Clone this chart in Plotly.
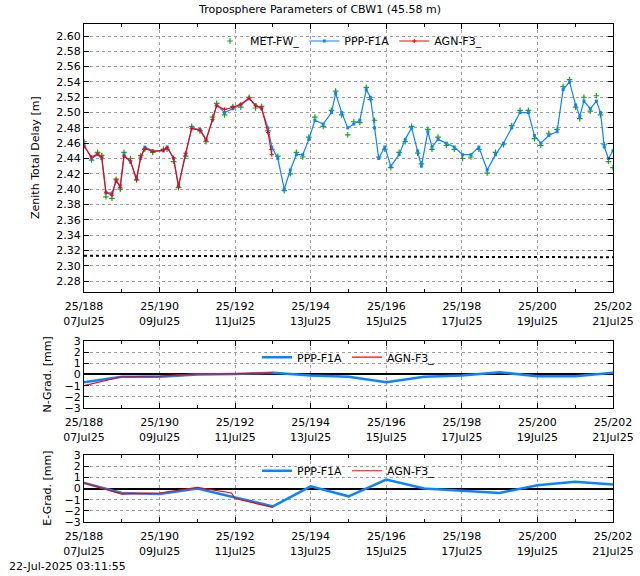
import plotly.graph_objects as go

# day of year (2025), zenith total delay [m]
ppp_doy = [188.0, 188.2, 188.36, 188.47, 188.58, 188.74, 188.85, 188.96, 189.06, 189.23, 189.39, 189.5,
           189.61, 189.82, 190.1, 190.2, 190.37, 190.5, 190.69, 190.85, 191.07, 191.23, 191.4, 191.51,
           191.72, 191.94, 192.15, 192.37, 192.54, 192.7, 192.87, 192.97, 193.13, 193.3, 193.46, 193.62,
           193.79, 193.95, 194.11, 194.33, 194.55, 194.66, 194.82, 194.98, 195.14, 195.3, 195.47, 195.58,
           195.69, 195.8, 195.96, 196.12, 196.34, 196.5, 196.67, 196.83, 196.93, 197.1, 197.21, 197.37,
           197.59, 197.8, 198.02, 198.24, 198.45, 198.67, 198.89, 199.1, 199.32, 199.54, 199.76, 199.92,
           200.09, 200.3, 200.52, 200.68, 200.85, 201.01, 201.12, 201.23, 201.4, 201.56, 201.67, 201.77,
           201.88, 202.0]
ppp_ztd = [2.458, 2.440, 2.445, 2.440, 2.395, 2.395, 2.410, 2.405, 2.445, 2.435, 2.415, 2.440,
           2.455, 2.450, 2.450, 2.455, 2.440, 2.405, 2.445, 2.480, 2.478, 2.465, 2.490, 2.510,
           2.500, 2.505, 2.510, 2.518, 2.510, 2.505, 2.480, 2.455, 2.440, 2.400, 2.425, 2.445,
           2.445, 2.465, 2.490, 2.485, 2.500, 2.525, 2.500, 2.480, 2.485, 2.490, 2.530, 2.520,
           2.480, 2.440, 2.455, 2.430, 2.445, 2.465, 2.480, 2.450, 2.430, 2.475, 2.455, 2.465,
           2.460, 2.455, 2.445, 2.445, 2.455, 2.425, 2.445, 2.460, 2.480, 2.500, 2.500, 2.470,
           2.460, 2.470, 2.475, 2.530, 2.540, 2.510, 2.495, 2.515, 2.505, 2.515, 2.500, 2.455,
           2.440, 2.450]
met_ztd = [2.462, 2.438, 2.448, 2.444, 2.390, 2.388, 2.413, 2.400, 2.448, 2.440, 2.412, 2.444,
           2.452, 2.448, 2.452, 2.452, 2.436, 2.402, 2.443, 2.482, 2.476, 2.462, 2.494, 2.512,
           2.497, 2.508, 2.507, 2.520, 2.506, 2.508, 2.476, 2.452, 2.443, 2.398, 2.420, 2.448,
           2.442, 2.468, 2.494, 2.482, 2.503, 2.528, 2.497, 2.471, 2.488, 2.487, 2.533, 2.517,
           2.490, 2.442, 2.452, 2.428, 2.448, 2.462, 2.482, 2.447, 2.433, 2.478, 2.452, 2.468,
           2.457, 2.452, 2.440, 2.442, 2.452, 2.421, 2.448, 2.458, 2.483, 2.503, 2.503, 2.466,
           2.457, 2.473, 2.478, 2.534, 2.543, 2.507, 2.492, 2.520, 2.502, 2.522, 2.497, 2.458,
           2.436, 2.428]
agn_doy = [188.0, 188.2, 188.36, 188.47, 188.58, 188.74, 188.85, 188.96, 189.06, 189.23, 189.39, 189.5,
           189.61, 189.82, 190.1, 190.2, 190.37, 190.5, 190.69, 190.85, 191.07, 191.23, 191.4, 191.51,
           191.72, 191.94, 192.15, 192.37, 192.54, 192.7, 192.87, 192.97]
agn_ztd = [2.456, 2.442, 2.446, 2.442, 2.396, 2.392, 2.412, 2.402, 2.443, 2.437, 2.412, 2.442,
           2.453, 2.449, 2.451, 2.454, 2.441, 2.403, 2.447, 2.479, 2.477, 2.464, 2.491, 2.509,
           2.504, 2.507, 2.511, 2.519, 2.509, 2.506, 2.474, 2.445]
ref_doy = [188.0, 195.0, 202.0]
ref_ztd = [2.313, 2.312, 2.311]

grad_doy = [188, 189, 190, 191, 192, 193, 194, 195, 196, 197, 198, 199, 200, 201, 202]
ppp_ngrad = [-0.7, -0.2, -0.2, 0.0, 0.05, 0.15, -0.1, -0.2, -0.7, -0.2, -0.1, 0.2, -0.15, -0.15, 0.15]
ppp_egrad = [0.5, -0.4, -0.5, 0.0, -0.8, -1.6, 0.2, -0.7, 0.8, 0.0, -0.2, -0.4, 0.3, 0.6, 0.35]
agn_grad_doy = [188, 189, 190, 191, 191.9, 192, 193]
agn_ngrad = [-1.0, -0.2, -0.15, 0.05, 0.05, 0.05, 0.15]
agn_egrad = [0.5, -0.5, -0.4, 0.1, -0.4, -0.9, -1.7]

tick_days = [188, 190, 192, 194, 196, 198, 200, 202]
tick_text = ["25/188<br>07Jul25", "25/190<br>09Jul25", "25/192<br>11Jul25", "25/194<br>13Jul25",
             "25/196<br>15Jul25", "25/198<br>17Jul25", "25/200<br>19Jul25", "25/202<br>21Jul25"]

BLUE = "#0a84ff"
GREEN = "#1ea01e"
RED = "#ff0000"

fig = go.Figure()
fig.add_trace(go.Scatter(x=ref_doy, y=ref_ztd, mode="lines", line=dict(color="black", width=2, dash="dot"),
                         showlegend=False))
fig.add_trace(go.Scatter(x=ppp_doy, y=met_ztd, mode="markers", name="MET-FW_",
                         marker=dict(symbol="cross-thin", size=4, line=dict(color=GREEN, width=1.2))))
fig.add_trace(go.Scatter(x=ppp_doy, y=ppp_ztd, mode="lines+markers", name="PPP-F1A",
                         line=dict(color=BLUE, width=1.2), marker=dict(symbol="square", size=3, color=BLUE)))
fig.add_trace(go.Scatter(x=agn_doy, y=agn_ztd, mode="lines+markers", name="AGN-F3_",
                         line=dict(color=RED, width=1.2),
                         marker=dict(symbol="cross-thin", size=3, line=dict(color=RED, width=1))))

for i, (yax, ppp, agn, leg) in enumerate([("y2", ppp_ngrad, agn_ngrad, "legend2"),
                                          ("y3", ppp_egrad, agn_egrad, "legend3")]):
    xax = "x2" if i == 0 else "x3"
    fig.add_trace(go.Scatter(x=grad_doy, y=ppp, xaxis=xax, yaxis=yax, mode="lines", name="PPP-F1A",
                             line=dict(color=BLUE, width=2.5), legend=leg))
    fig.add_trace(go.Scatter(x=agn_grad_doy, y=agn, xaxis=xax, yaxis=yax, mode="lines", name="AGN-F3_",
                             line=dict(color=RED, width=1.2), legend=leg))

axis_common = dict(showline=True, mirror="ticks", linecolor="black", linewidth=1, ticks="inside",
                   tickcolor="black", ticklen=5, gridcolor="#a0a0a0", griddash="dot", gridwidth=1,
                   zeroline=False, automargin=False, tickfont=dict(size=11, color="black"))
xcommon = dict(axis_common, range=[188, 202], tickvals=tick_days, ticktext=tick_text, ticklabelstandoff=4,
               minor=dict(dtick=1, ticks="inside", ticklen=3, tickcolor="black", showgrid=False))


def ytitle(text, xpx, ymid):
    return dict(text=text, xref="paper", yref="paper", x=(xpx - 84) / 529, y=ymid, textangle=-90,
                xanchor="center", yanchor="middle", showarrow=False, font=dict(size=11))


fig.update_layout(
    width=640, height=576,
    margin=dict(l=84, r=27, t=24, b=54),
    paper_bgcolor="white", plot_bgcolor="white",
    font=dict(family="DejaVu Sans", size=11, color="black"),
    title=dict(text="Troposphere Parameters of CBW1 (45.58 m)", x=0.5, y=0.99, xanchor="center",
               font=dict(size=11)),
    xaxis=dict(xcommon, anchor="y"),
    xaxis2=dict(xcommon, anchor="y2"),
    xaxis3=dict(xcommon, anchor="y3"),
    yaxis=dict(axis_common, domain=[0.4618, 1], range=[2.2656, 2.6157], dtick=0.02, tickformat=".2f"),
    yaxis2=dict(axis_common, domain=[0.2289, 0.3635], range=[-3, 3], dtick=1, zeroline=True,
                zerolinecolor="black", zerolinewidth=1.5),
    yaxis3=dict(axis_common, domain=[0, 0.1345], range=[-3, 3], dtick=1, zeroline=True,
                zerolinecolor="black", zerolinewidth=1.5),
    legend=dict(orientation="h", x=0.5, xanchor="center", y=0.995, yanchor="top", bgcolor="rgba(0,0,0,0)",
                font=dict(size=11)),
    legend2=dict(orientation="h", x=0.5, xanchor="center", y=0.36, yanchor="top", bgcolor="rgba(0,0,0,0)",
                 font=dict(size=11)),
    legend3=dict(orientation="h", x=0.5, xanchor="center", y=0.132, yanchor="top", bgcolor="rgba(0,0,0,0)",
                 font=dict(size=11)),
    annotations=[
        ytitle("Zenith Total Delay [m]", 36, 0.731),
        ytitle("N-Grad. [mm]", 48, 0.296),
        ytitle("E-Grad. [mm]", 48, 0.067),
        dict(text="22-Jul-2025 03:11:55", xref="paper", yref="paper", x=-0.145, y=-0.106,
             xanchor="left", yanchor="bottom", showarrow=False, font=dict(size=11)),
    ],
)

fig.write_html("out.html", config={"displayModeBar": False},
               post_script="document.body.style.margin='0';")
